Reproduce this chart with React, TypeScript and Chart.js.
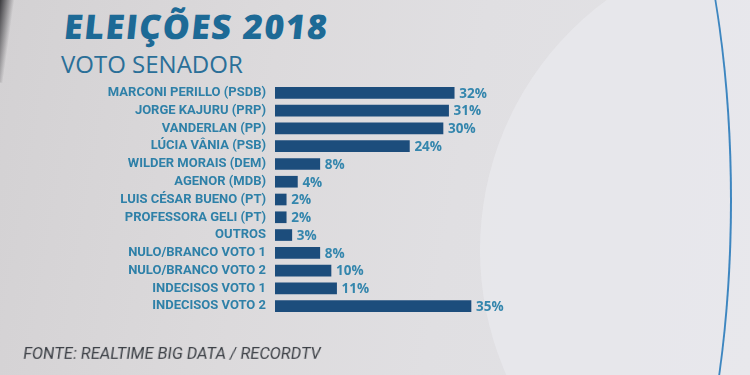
import React, { useEffect, useRef } from "react";
import { Chart, registerables } from "chart.js";

Chart.register(...registerables);

const categories = [
  "MARCONI PERILLO (PSDB)",
  "JORGE KAJURU (PRP)",
  "VANDERLAN (PP)",
  "LÚCIA VÂNIA (PSB)",
  "WILDER MORAIS (DEM)",
  "AGENOR (MDB)",
  "LUIS CÉSAR BUENO (PT)",
  "PROFESSORA GELI (PT)",
  "OUTROS",
  "NULO/BRANCO VOTO 1",
  "NULO/BRANCO VOTO 2",
  "INDECISOS VOTO 1",
  "INDECISOS VOTO 2",
];
const values = [32, 31, 30, 24, 8, 4, 2, 2, 3, 8, 10, 11, 35];

const title = "ELEIÇÕES 2018";
const subtitle = "VOTO SENADOR";
const source = "FONTE: REALTIME BIG DATA / RECORDTV";

const BAR = "#1c4d7c";
const LABEL = "#2e80a8";

export default function App() {
  const ref = useRef<HTMLCanvasElement | null>(null);

  useEffect(() => {
    if (!ref.current) return;
    const valueLabels = {
      id: "valueLabels",
      afterDatasetsDraw(chart: any) {
        const ctx = chart.ctx;
        const meta = chart.getDatasetMeta(0);
        ctx.save();
        ctx.fillStyle = "#3486ad";
        ctx.font = "bold 13.5px 'Open Sans', sans-serif";
        ctx.textBaseline = "middle";
        ctx.textAlign = "left";
        meta.data.forEach((el: any, i: number) => {
          ctx.fillText(values[i] + "%", el.x + 5, el.y + 1);
        });
        ctx.restore();
      },
    };
    const chart = new Chart(ref.current, {
      type: "bar",
      data: {
        labels: categories,
        datasets: [
          {
            data: values,
            backgroundColor: BAR,
            borderWidth: 0,
            barThickness: 11,
          },
        ],
      },
      options: {
        indexAxis: "y",
        animation: false,
        responsive: false,
        maintainAspectRatio: false,
        layout: { padding: { left: 0, right: 251, top: 84, bottom: 60 } },
        plugins: { legend: { display: false }, tooltip: { enabled: false } },
        scales: {
          x: { display: false, min: 0, max: 40, grid: { display: false } },
          y: {
            grid: { display: false, drawTicks: false },
            border: { display: false },
            afterFit: (s: any) => {
              s.width = 275;
            },
            ticks: {
              autoSkip: false,
              padding: 9,
              color: LABEL,
              font: { family: "'Roboto', sans-serif", size: 13, weight: "bold" },
            },
          },
        },
      },
      plugins: [valueLabels],
    });
    return () => chart.destroy();
  }, []);

  return (
    <div
      style={{
        position: "fixed",
        left: 0,
        top: 0,
        width: 750,
        height: 375,
        overflow: "hidden",
        background:
          "linear-gradient(100deg, #d3d1d3 0%, #dcdadc 35%, #e0dfe2 60%, #e3e3e7 100%)",
      }}
    >
      <div
        style={{
          position: "absolute",
          left: -40,
          top: -20,
          width: 50,
          height: 100,
          background: "linear-gradient(90deg, #1a1a1e 65%, rgba(40,40,45,0) 100%)",
          transform: "rotate(8deg)",
        }}
      />
      <div
        style={{
          position: "absolute",
          left: 480,
          top: -60,
          width: 620,
          height: 620,
          borderRadius: "50%",
          background: "rgba(234,234,238,0.7)",
        }}
      />
      <div
        style={{
          position: "absolute",
          left: 430,
          top: -250,
          width: 300,
          height: 900,
          borderRadius: "50%",
          borderRight: "2px solid #3d86c0",
        }}
      />
      <div
        style={{
          position: "absolute",
          left: 62,
          top: 3,
          color: "#1d6a96",
          font: "800 34px 'Open Sans', sans-serif",
          letterSpacing: "1.5px",
          transform: "skewX(-6deg)",
          transformOrigin: "left bottom",
          whiteSpace: "nowrap",
        }}
      >
        {title}
      </div>
      <div
        style={{
          position: "absolute",
          left: 61,
          top: 47,
          color: "#2a6f98",
          font: "24px 'Open Sans', sans-serif",
          whiteSpace: "nowrap",
        }}
      >
        {subtitle}
      </div>
      <canvas ref={ref} width={750} height={375} style={{ position: "absolute", left: 0, top: 0 }} />
      <div
        style={{
          position: "absolute",
          left: 22,
          top: 344,
          color: "#3a3e44",
          font: "16px 'Roboto', sans-serif",
          transform: "skewX(-8deg)",
          transformOrigin: "left bottom",
          whiteSpace: "nowrap",
        }}
      >
        {source}
      </div>
    </div>
  );
}
